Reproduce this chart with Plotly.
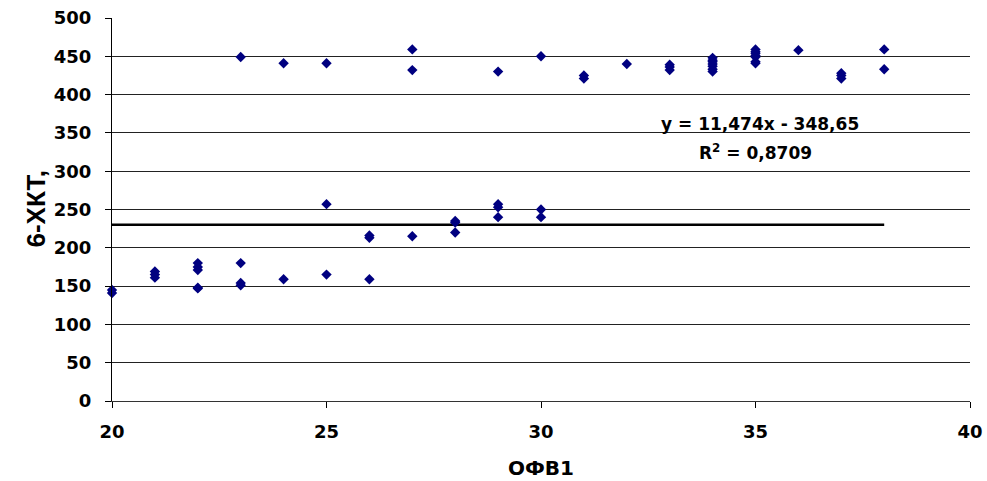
import plotly.graph_objects as go

# ОФВ1 values (x) and 6-ХКТ values (y)
x_vals = [20, 20,
          21, 21, 21,
          22, 22, 22, 22, 22,
          23, 23, 23, 23,
          24, 24,
          25, 25, 25,
          26, 26, 26,
          27, 27, 27,
          28, 28, 28,
          29, 29, 29, 29,
          30, 30, 30,
          31, 31,
          32,
          33, 33, 33,
          34, 34, 34, 34, 34, 34, 34,
          35, 35, 35, 35, 35, 35, 35,
          36,
          37, 37, 37,
          38, 38]
y_vals = [145, 141,
          169, 165, 161,
          180, 175, 171, 148, 147,
          180, 154, 151, 449,
          159, 441,
          257, 165, 441,
          216, 213, 159,
          215, 459, 432,
          235, 233, 220,
          257, 253, 240, 430,
          250, 240, 450,
          425, 421,
          440,
          439, 436, 432,
          448, 445, 443, 440, 437, 433, 430,
          459, 456, 454, 451, 449, 443, 441,
          458,
          428, 425, 421,
          459, 433]

trend_x = [20, 38]
trend_y = [230, 230]

x_ticks = [20, 25, 30, 35, 40]
y_ticks = [0, 50, 100, 150, 200, 250, 300, 350, 400, 450, 500]

eq_text = "y = 11,474x - 348,65"
r2_text = "R<sup>2</sup> = 0,8709"
x_title = "ОФВ1"
y_title = "6-ХКТ,"

fig = go.Figure()
fig.add_trace(go.Scatter(
    x=trend_x, y=trend_y, mode="lines",
    line=dict(color="black", width=2.5), showlegend=False, hoverinfo="skip"))
fig.add_trace(go.Scatter(
    x=x_vals, y=y_vals, mode="markers",
    marker=dict(symbol="diamond", size=8, color="#000080", line=dict(width=0)),
    showlegend=False, cliponaxis=False))

tickfont = dict(family="DejaVu Sans", size=18, color="black", weight="bold")

fig.update_layout(
    width=987, height=481,
    margin=dict(l=112, r=17, t=18, b=80),
    plot_bgcolor="white", paper_bgcolor="white",
    xaxis=dict(range=[20, 40], tickvals=x_ticks, ticks="outside", ticklen=6,
               tickcolor="black", showline=True, linecolor="#333", linewidth=1,
               showgrid=False, zeroline=False, tickfont=tickfont,
               ticklabelstandoff=8, automargin=False),
    yaxis=dict(range=[0, 500], tickvals=y_ticks, ticks="outside", ticklen=6,
               tickcolor="black", showline=True, linecolor="black", linewidth=1,
               showgrid=True, gridcolor="#222", gridwidth=1, zeroline=False,
               tickfont=tickfont, ticklabelstandoff=10, automargin=False),
    annotations=[
        dict(text=eq_text, x=35.1, y=361, xref="x", yref="y", showarrow=False,
             xanchor="center", yanchor="middle",
             font=dict(family="DejaVu Sans", size=17, color="black", weight="bold")),
        dict(text=r2_text, x=35.0, y=325, xref="x", yref="y", showarrow=False,
             xanchor="center", yanchor="middle",
             font=dict(family="DejaVu Sans", size=17, color="black", weight="bold")),
        dict(text=x_title, x=0.5, y=(401 - 468) / 383, xref="paper", yref="paper",
             showarrow=False, xanchor="center", yanchor="middle",
             font=dict(family="DejaVu Sans", size=20, color="black", weight="bold")),
        dict(text=y_title, x=(35 - 112) / 858, y=0.5, xref="paper", yref="paper",
             showarrow=False, xanchor="center", yanchor="middle", textangle=-90,
             font=dict(family="Liberation Sans", size=26, color="black", weight="bold")),
    ],
)

fig.write_html("out.html")
